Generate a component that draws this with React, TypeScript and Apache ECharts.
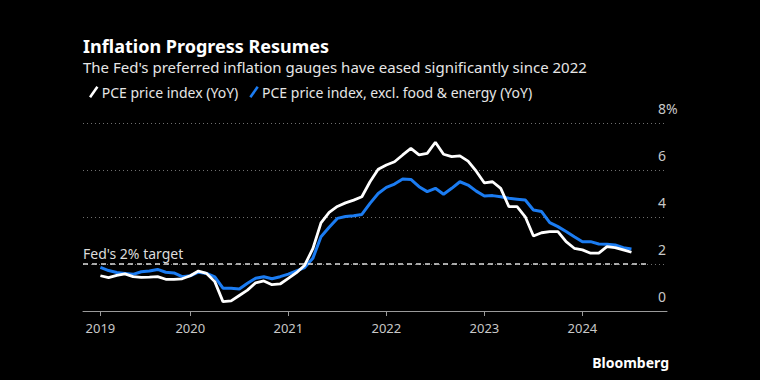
import React, { useEffect, useRef } from 'react';
import * as echarts from 'echarts';

// Monthly observations, Jan 2019 (index 0) .. Jun 2024 (index 65)
const pceHeadline = [
  1.50, 1.42, 1.52, 1.58, 1.46, 1.43, 1.44, 1.46, 1.35, 1.35, 1.37, 1.50,
  1.70, 1.60, 1.25, 0.40, 0.43, 0.66, 0.89, 1.20, 1.28, 1.12, 1.15, 1.39,
  1.63, 1.95, 2.65, 3.75, 4.20, 4.45, 4.60, 4.72, 4.86, 5.50, 6.03, 6.21,
  6.35, 6.64, 6.92, 6.64, 6.71, 7.18, 6.67, 6.57, 6.60, 6.38, 5.95, 5.45,
  5.50, 5.22, 4.44, 4.44, 4.01, 3.19, 3.33, 3.38, 3.38, 2.95, 2.67, 2.60,
  2.46, 2.46, 2.74, 2.70, 2.60, 2.50,
];
const pceCore = [
  1.86, 1.72, 1.64, 1.60, 1.56, 1.67, 1.70, 1.77, 1.65, 1.62, 1.46, 1.50,
  1.65, 1.60, 1.45, 0.97, 0.97, 0.94, 1.18, 1.39, 1.46, 1.37, 1.46, 1.57,
  1.71, 1.85, 2.24, 3.16, 3.56, 3.94, 4.02, 4.05, 4.11, 4.58, 5.00, 5.26,
  5.40, 5.62, 5.60, 5.29, 5.08, 5.22, 4.97, 5.22, 5.50, 5.36, 5.10, 4.89,
  4.91, 4.86, 4.80, 4.76, 4.72, 4.30, 4.23, 3.76, 3.59, 3.38, 3.16, 2.95,
  2.95, 2.85, 2.84, 2.81, 2.69, 2.64,
];
const yearLabels = ['2019', '2020', '2021', '2022', '2023', '2024'];
const yearTickIdx = [0, 11, 23, 35, 47, 59];
const fedTarget = 2;
const seriesNames = ['PCE price index (YoY)', 'PCE price index, excl. food & energy (YoY)'];

const X_MIN = -2.13;
const X_MAX = 69.35;
const TARGET_END = 66.9;
const FONT = '"Noto Sans", "DejaVu Sans", sans-serif';
const WHITE = '#ffffff';
const BLUE = '#1b7cf2';
const SLASH = 'path://M0,10 L7,0 L9,1.4 L2,11.4 Z';

export default function App() {
  const ref = useRef<HTMLDivElement>(null);
  useEffect(() => {
    document.body.style.margin = '0';
    document.body.style.background = '#000';
    const chart = echarts.init(ref.current!, null, { renderer: 'svg' });
    const toPairs = (arr: number[]) => arr.map((v, i) => [i, v]);
    chart.setOption({
      animation: false,
      backgroundColor: '#000000',
      textStyle: { fontFamily: FONT },
      title: [
        {
          text: 'Inflation Progress Resumes',
          left: 83,
          top: 37,
          padding: 0,
          textStyle: { color: '#ffffff', fontSize: 18, lineHeight: 18, fontWeight: 'bold', fontFamily: FONT },
        },
        {
          text: "The Fed's preferred inflation gauges have eased significantly since 2022",
          left: 83,
          top: 59,
          padding: 0,
          textStyle: { color: '#e6e6e6', fontSize: 15, lineHeight: 15, fontWeight: 'normal', fontFamily: FONT },
        },
      ],
      legend: {
        left: 84,
        top: 80,
        icon: SLASH,
        itemWidth: 10,
        itemHeight: 12,
        itemGap: 11,
        data: seriesNames,
        textStyle: { color: '#e6e6e6', fontSize: 14, fontFamily: FONT, padding: [0, 0, 0, -2] },
        selectedMode: false,
      },
      grid: { left: 83, right: 93, top: 123, bottom: 69, containLabel: false },
      xAxis: {
        type: 'value',
        min: X_MIN,
        max: X_MAX,
        axisLine: { show: true, lineStyle: { color: '#9a9a9a', width: 1 } },
        axisTick: { show: true, customValues: yearTickIdx, length: 5, lineStyle: { color: '#9a9a9a' } },
        axisLabel: {
          customValues: yearTickIdx,
          color: '#c8c8c8',
          fontSize: 13,
          margin: 10,
          formatter: (v: number) => yearLabels[yearTickIdx.indexOf(Math.round(v))] ?? '',
        },
        splitLine: { show: false },
      },
      yAxis: {
        type: 'value',
        position: 'right',
        min: 0,
        max: 8,
        interval: 2,
        axisLine: { show: false },
        axisTick: { show: false },
        axisLabel: {
          color: '#c8c8c8',
          fontSize: 14,
          margin: -9,
          align: 'left',
          verticalAlign: 'bottom',
          padding: [0, 0, 8, 0],
          formatter: (v: number) => (v === 8 ? '8%' : String(v)),
        },
        splitLine: { show: true, lineStyle: { color: '#707070', width: 1, type: [1, 3] } },
      },
      series: [
        {
          name: seriesNames[1],
          type: 'line',
          data: toPairs(pceCore),
          showSymbol: false,
          symbol: 'none',
          lineStyle: { color: BLUE, width: 3 },
          itemStyle: { color: BLUE },
          z: 3,
          markLine: {
            silent: true,
            symbol: 'none',
            lineStyle: { color: '#dcdcdc', width: 1.5, type: [5, 4] },
            label: {
              show: true,
              position: 'insideStartTop',
              formatter: "Fed's 2% target",
              color: '#dcdcdc',
              fontSize: 14,
              fontFamily: FONT,
              distance: [0, 4],
            },
            data: [[{ coord: [X_MIN, fedTarget] }, { coord: [TARGET_END, fedTarget] }]],
          },
        },
        {
          name: seriesNames[0],
          type: 'line',
          data: toPairs(pceHeadline),
          showSymbol: false,
          symbol: 'none',
          lineStyle: { color: WHITE, width: 2.8 },
          itemStyle: { color: WHITE },
          z: 4,
        },
      ],
      graphic: [
        {
          type: 'text',
          right: 91,
          top: 355,
          style: { text: 'Bloomberg', fill: '#ffffff', fontSize: 14, fontWeight: 'bold', fontFamily: FONT },
        },
      ],
    });
    return () => chart.dispose();
  }, []);
  return <div ref={ref} style={{ width: 760, height: 380, background: '#000' }} />;
}
